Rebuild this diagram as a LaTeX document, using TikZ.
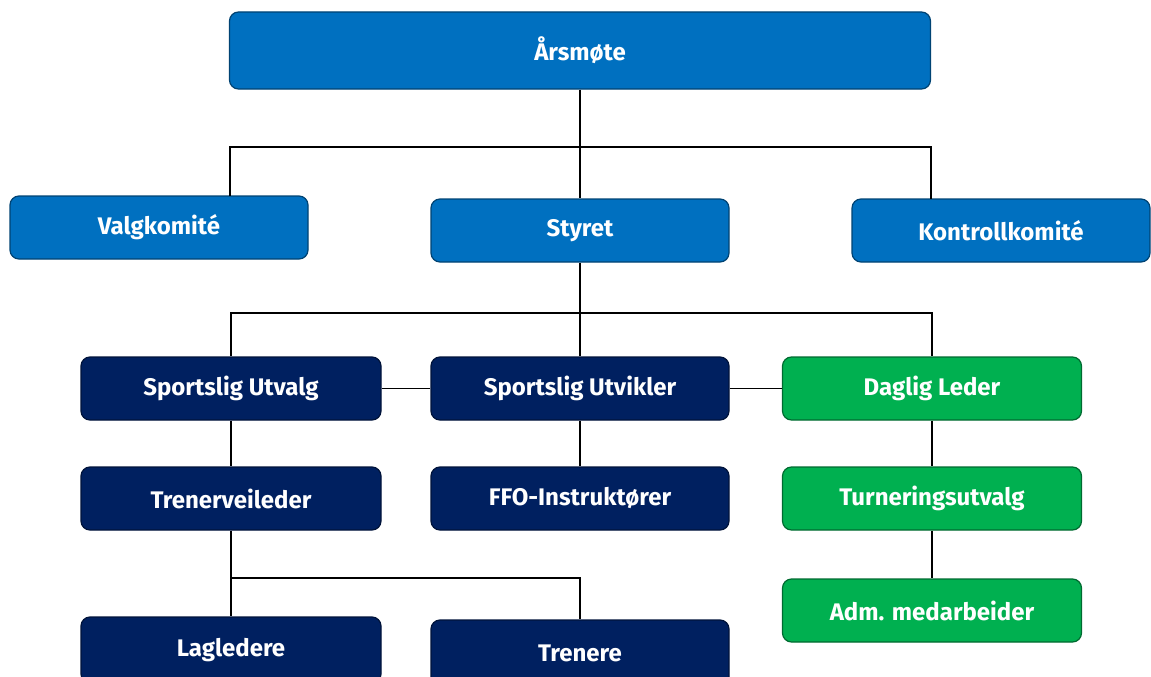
\documentclass[tikz,border=0pt]{standalone}
\usepackage{fontspec}
\setmainfont{Fira Sans}
\begin{document}
\begin{tikzpicture}[x=1pt,y=-1pt,
  box/.style={draw=#1!60!black,line width=1.2pt,rounded corners=9pt,fill=#1,
    text=white,font=\fontsize{24}{28}\selectfont\bfseries,inner sep=0pt,
    minimum width=299pt,minimum height=63pt},
  conn/.style={line width=1.8pt,draw=black}]
\definecolor{midblue}{HTML}{0070C0}
\definecolor{navy}{HTML}{002060}
\definecolor{grn}{HTML}{00B050}
\useasboundingbox (0,0) rectangle (1151,677);
\clip (0,0) rectangle (1151,677);
% nodes
\node[box=midblue,minimum width=701pt,minimum height=77pt] (ars) at (580,50.5) {Årsmøte};
\node[box=midblue,minimum width=298pt] (valg) at (159,227.5) {Valgkomité};
\node[box=midblue,minimum width=298pt] (sty) at (580,230.5) {Styret};
\node[box=midblue,minimum width=298pt] (kon) at (1001,230.5) {Kontrollkomité};
\node[box=navy,minimum width=300pt] (su) at (231,388.5) {Sportslig Utvalg};
\node[box=navy,minimum width=298pt] (sut) at (580,388.5) {Sportslig Utvikler};
\node[box=grn] (dl) at (932,388.5) {Daglig Leder};
\node[box=navy,minimum width=300pt] (tv) at (231,498.5) {Trenerveileder};
\node[box=navy,minimum width=298pt] (ffo) at (580,498.5) {FFO-Instruktører};
\node[box=grn] (tu) at (932,498.5) {Turneringsutvalg};
\node[box=navy,minimum width=300pt,minimum height=66pt] (lag) at (231,650) {Lagledere};
\node[box=navy,minimum width=298pt,minimum height=66pt] (tre) at (580,653) {Trenere};
\node[box=grn] (adm) at (932,610.5) {Adm. medarbeider};
% junction coordinates
\coordinate (j1) at (580,147);
\coordinate (vtop) at (230,196);
\coordinate (ktop) at (931,199);
\coordinate (j2) at (580,313);
\coordinate (j3) at (231,578);
% connectors
\draw[conn] (ars.south) -- (j1);
\draw[conn] (vtop) |- (j1) -| (ktop);
\draw[conn] (j1) -- (sty.north);
\draw[conn] (sty.south) -- (j2);
\draw[conn] (su.north) |- (j2) -| (dl.north);
\draw[conn] (j2) -- (sut.north);
\draw[conn] (su.east) -- (sut.west);
\draw[conn] (sut.east) -- (dl.west);
\draw[conn] (su.south) -- (tv.north);
\draw[conn] (sut.south) -- (ffo.north);
\draw[conn] (dl.south) -- (tu.north);
\draw[conn] (tv.south) -- (j3);
\draw[conn] (j3) -- (lag.north);
\draw[conn] (j3) -| (tre.north);
\draw[conn] (tu.south) -- (adm.north);
\end{tikzpicture}
\end{document}
